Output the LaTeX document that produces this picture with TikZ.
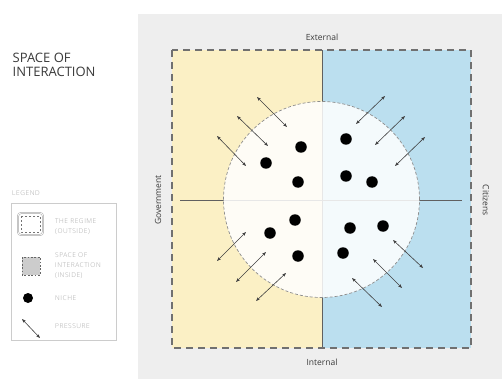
\documentclass[tikz,border=0pt]{standalone}
\usepackage{fontspec}
\setmainfont{Open Sans}
\newfontfamily\legfont[LetterSpace=8]{Open Sans Light}
\usetikzlibrary{arrows.meta}
\definecolor{bgpanel}{HTML}{EEEEEE}
\definecolor{govyellow}{HTML}{FBF0C5}
\definecolor{citblue}{HTML}{BBDFEF}
\definecolor{linegray}{HTML}{606060}
\definecolor{dashgray}{HTML}{707070}
\definecolor{legtext}{HTML}{A8A8A8}
\definecolor{titletext}{HTML}{3A3A3A}
\tikzset{
  niche/.style={circle,fill=black,minimum size=11.5pt,inner sep=0pt},
  pressure/.style={draw=black!75,line width=0.6pt,{Stealth[length=4pt,width=3pt]}-{Stealth[length=4pt,width=3pt]}},
  sidelabel/.style={font=\fontsize{8.5}{9}\selectfont,text=titletext,inner sep=0pt},
  legendlabel/.style={font=\legfont\fontsize{6.6}{10}\selectfont,text=legtext,align=left,anchor=west,inner sep=0pt},
}
\begin{document}
\begin{tikzpicture}[x=1pt,y=-1pt]
\useasboundingbox (0,0) rectangle (502,379);
\fill[white] (0,0) rectangle (502,379);
\fill[bgpanel] (138,14) rectangle (502,379);
% quadrant fills
\fill[govyellow] (172,50) rectangle (322,348);
\fill[citblue] (322,50) rectangle (471,348);
% axes
\coordinate (vtop) at (322,50);
\coordinate (vbot) at (322,348);
\coordinate (hleft) at (180,200);
\coordinate (hright) at (462,200);
\draw[linegray,line width=0.8pt] (vtop) -- (vbot);
\draw[linegray,line width=0.8pt] (hleft) -- (hright);
% space of interaction
\coordinate (ctr) at (321.5,199.5);
\fill[white,opacity=0.85] (ctr) circle (98pt);
\draw[dashgray!80,line width=0.7pt,dash pattern=on 3pt off 2pt] (ctr) circle (98pt);
% regime border
\draw[dashgray,line width=1.2pt,dash pattern=on 7pt off 5pt] (172,50) rectangle (471,348);
% labels
\node[sidelabel] (ext) at (322,37) {External};
\node[sidelabel] (int) at (322,362) {Internal};
\node[sidelabel,rotate=90] (gov) at (158,200) {Government};
\node[sidelabel,rotate=-90] (cit) at (486,200) {Citizens};
% niches
\node[niche] (n1) at (266,163) {};
\node[niche] (n2) at (301,147) {};
\node[niche] (n3) at (298,182) {};
\node[niche] (n4) at (346,139) {};
\node[niche] (n5) at (346,176) {};
\node[niche] (n6) at (372,182) {};
\node[niche] (n7) at (295,220) {};
\node[niche] (n8) at (270,233) {};
\node[niche] (n9) at (298,256) {};
\node[niche] (n10) at (350,228) {};
\node[niche] (n11) at (383,226) {};
\node[niche] (n12) at (343,253) {};
% pressure arrows
\coordinate (a1s) at (217,136); \coordinate (a1e) at (246,166);
\coordinate (a2s) at (237,116); \coordinate (a2e) at (268,146);
\coordinate (a3s) at (257,97);  \coordinate (a3e) at (287,127);
\coordinate (b1s) at (356,124); \coordinate (b1e) at (385,96);
\coordinate (b2s) at (375,145); \coordinate (b2e) at (405,116);
\coordinate (b3s) at (395,166); \coordinate (b3e) at (425,137);
\coordinate (c1s) at (217,261); \coordinate (c1e) at (246,232);
\coordinate (c2s) at (236,282); \coordinate (c2e) at (266,252);
\coordinate (c3s) at (256,301); \coordinate (c3e) at (286,273);
\coordinate (d1s) at (393,240); \coordinate (d1e) at (423,268);
\coordinate (d2s) at (373,259); \coordinate (d2e) at (402,288);
\coordinate (d3s) at (352,278); \coordinate (d3e) at (382,307);
\foreach \p in {a1,a2,a3,b1,b2,b3,c1,c2,c3,d1,d2,d3}{
  \draw[pressure] (\p s) -- (\p e);
}
% title
\node[anchor=north west,align=left,inner sep=0pt,text=titletext,
      font=\fontsize{13}{14.5}\selectfont] (title) at (12.5,52.5) {SPACE OF\\INTERACTION};
% legend
\node[legendlabel] (legtitle) at (12,193) {LEGEND};
\draw[black!20,line width=0.6pt] (11,203) rectangle (116,340);
% regime icon
\draw[black!35,double=white,double distance=0.8pt,line width=0.5pt,rounded corners=3pt] (18,213) rectangle (43,235);
\draw[black!55,line width=0.5pt,dash pattern=on 1.8pt off 2.2pt] (21,216) rectangle (40,232);
\node[legendlabel] (l1) at (55,227) {THE REGIME\\(OUTSIDE)};
% space icon
\fill[black!20] (22,257) rectangle (40,275);
\draw[black!60,line width=0.5pt,dash pattern=on 1.8pt off 1.6pt] (22,257) rectangle (40,275);
\node[legendlabel] (l2) at (55,266) {SPACE OF\\INTERACTION\\(INSIDE)};
% niche icon
\node[niche,minimum size=10pt] (ln) at (28,298) {};
\node[legendlabel] (l3) at (55,298) {NICHE};
% pressure icon
\coordinate (lps) at (22,319); \coordinate (lpe) at (40,338);
\draw[pressure] (lps) -- (lpe);
\node[legendlabel] (l4) at (55,326) {PRESSURE};
\end{tikzpicture}
\end{document}
